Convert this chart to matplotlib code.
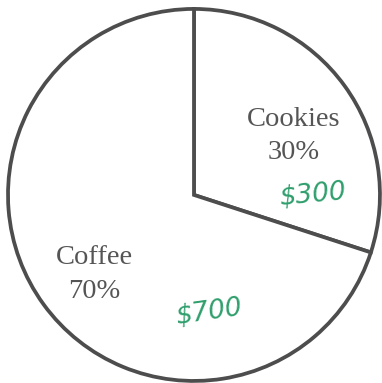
import matplotlib
matplotlib.use("Agg")
import matplotlib.pyplot as plt

# data
categories = ['Cookies', 'Coffee']
shares = [30, 70]
amounts = ['$300', '$700']

line_col = '#4d4d4d'
text_col = '#555555'
green = '#2f9e6c'

fig = plt.figure(figsize=(3.82, 3.83), dpi=100)
ax = fig.add_axes([0, 0, 1, 1])

labels = [f'{c}\n{s}%' for c, s in zip(categories, shares)]
wedges, texts = ax.pie(shares, labels=labels, startangle=90, counterclock=False,
                       radius=1, colors=['white', 'white'], labeldistance=0.66,
                       wedgeprops=dict(edgecolor=line_col, linewidth=2.7),
                       textprops=dict(family='Liberation Serif', fontsize=20.5,
                                      color=text_col, linespacing=1.45))
# nudge labels down a bit, like the drawing
nudge = [-0.07, -0.04]
for t, dy in zip(texts, nudge):
    x, y = t.get_position()
    t.set_position((x, y + dy))
    t.set_horizontalalignment('center')
    t.set_verticalalignment('center')

# handwritten amounts
ax.text(0.64, 0.0, amounts[0].replace('$', r'\$'), color=green, fontsize=19,
        style='italic', family='DejaVu Sans', ha='center', va='center', rotation=5)
ax.text(0.08, -0.63, amounts[1].replace('$', r'\$'), color=green, fontsize=19,
        style='italic', family='DejaVu Sans', ha='center', va='center', rotation=8)

ax.set_xlim(-1.043, 1.011)
ax.set_ylim(-1.011, 1.048)
ax.set_aspect('auto')
ax.axis('off')

fig.savefig('out.png', dpi=100, facecolor='white')
